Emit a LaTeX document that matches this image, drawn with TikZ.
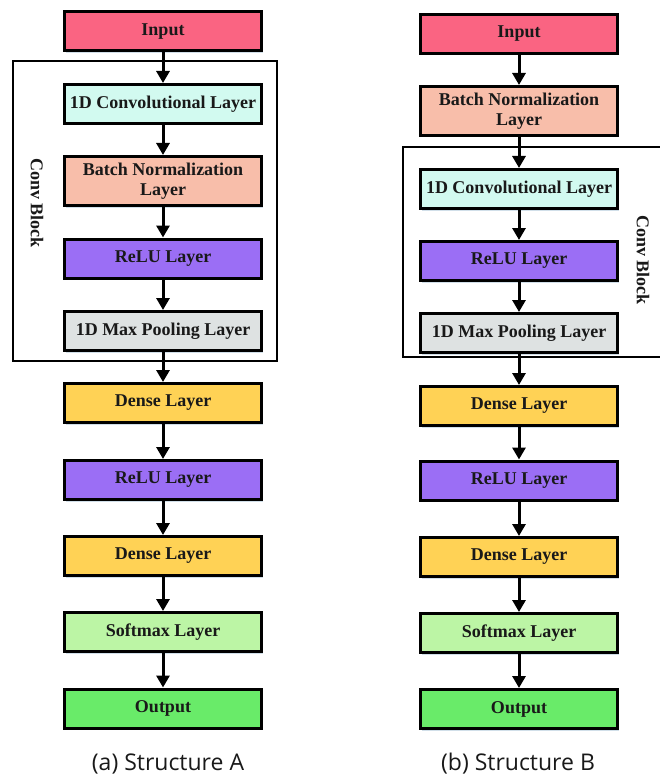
\documentclass[tikz,border=0pt]{standalone}
\usepackage{fontspec}
\setmainfont{Liberation Serif}
\newfontfamily\capfont{Open Sans}
\usetikzlibrary{arrows.meta,shadows}
\definecolor{cInput}{RGB}{250,100,130}
\definecolor{cConv}{RGB}{210,250,240}
\definecolor{cBN}{RGB}{248,190,170}
\definecolor{cRelu}{RGB}{155,110,245}
\definecolor{cPool}{RGB}{222,226,226}
\definecolor{cDense}{RGB}{255,210,85}
\definecolor{cSoft}{RGB}{188,245,165}
\definecolor{cOut}{RGB}{105,235,105}
\definecolor{cShadow}{RGB}{190,210,225}
\tikzset{
  layer/.style={draw=black, line width=3pt, minimum width=197pt, minimum height=39pt,
    inner sep=0pt, align=center, font=\fontsize{18}{19.5}\selectfont\bfseries, text=black!90,
    drop shadow={shadow xshift=1.5pt, shadow yshift=-2pt, fill=cShadow, opacity=0.7}},
  tall/.style={minimum height=49pt},
  flow/.style={line width=3pt, -{Triangle[width=13pt,length=12pt]}},
  frame/.style={draw=black, line width=2pt},
  blocklabel/.style={font=\fontsize{18}{19.5}\selectfont\bfseries, rotate=-90, text=black!90},
  caption/.style={font=\capfont\fontsize{23}{27}\selectfont, text=black!90}
}
\begin{document}
\begin{tikzpicture}[x=1pt,y=-1pt]
\useasboundingbox (0,0) rectangle (660,778);
\fill[white] (0,0) rectangle (660,778);
% ---------- Structure A ----------
\draw[frame] (13,61) rectangle (277,361);
\node[blocklabel] (lblA) at (37,203) {Conv Block};
\node[layer, fill=cInput] (aIn) at (163,31.5) {Input};
\node[layer, fill=cConv] (aConv) at (163,104) {1D Convolutional Layer};
\node[layer, tall, fill=cBN] (aBN) at (163,181) {Batch Normalization\\Layer};
\node[layer, fill=cRelu] (aRelu1) at (163,258.5) {ReLU Layer};
\node[layer, fill=cPool] (aPool) at (163,331) {1D Max Pooling Layer};
\node[layer, fill=cDense] (aD1) at (163,403) {Dense Layer};
\node[layer, fill=cRelu] (aRelu2) at (163,480) {ReLU Layer};
\node[layer, fill=cDense] (aD2) at (163,556) {Dense Layer};
\node[layer, fill=cSoft] (aSoft) at (163,632) {Softmax Layer};
\node[layer, fill=cOut] (aOut) at (163,708.5) {Output};
\foreach \a/\b in {aIn/aConv,aConv/aBN,aBN/aRelu1,aRelu1/aPool,aPool/aD1,aD1/aRelu2,aRelu2/aD2,aD2/aSoft,aSoft/aOut}
  \draw[flow] (\a.south) -- (\b.north);
\node[caption] (capA) at (168,764) {(a) Structure A};
% ---------- Structure B ----------
\draw[frame] (662,147) -| (403,357) -- (662,357);
\node[blocklabel] (lblB) at (643,260) {Conv Block};
\node[layer, fill=cInput] (bIn) at (519,34) {Input};
\node[layer, tall, fill=cBN] (bBN) at (519,111) {Batch Normalization\\Layer};
\node[layer, fill=cConv] (bConv) at (519,189) {1D Convolutional Layer};
\node[layer, fill=cRelu] (bRelu1) at (519,261) {ReLU Layer};
\node[layer, fill=cPool] (bPool) at (519,333) {1D Max Pooling Layer};
\node[layer, fill=cDense] (bD1) at (519,406) {Dense Layer};
\node[layer, fill=cRelu] (bRelu2) at (519,480.5) {ReLU Layer};
\node[layer, fill=cDense] (bD2) at (519,557) {Dense Layer};
\node[layer, fill=cSoft] (bSoft) at (519,633) {Softmax Layer};
\node[layer, fill=cOut] (bOut) at (519,709) {Output};
\foreach \a/\b in {bIn/bBN,bBN/bConv,bConv/bRelu1,bRelu1/bPool,bPool/bD1,bD1/bRelu2,bRelu2/bD2,bD2/bSoft,bSoft/bOut}
  \draw[flow] (\a.south) -- (\b.north);
\node[caption] (capB) at (518,764) {(b) Structure B};
\end{tikzpicture}
\end{document}
